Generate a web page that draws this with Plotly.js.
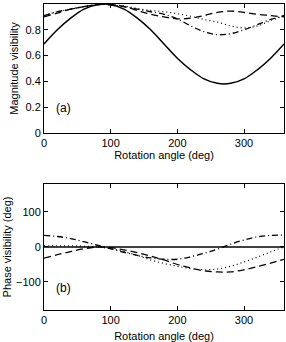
<!DOCTYPE html>
<html>
<head>
<meta charset="utf-8">
<script src="https://cdn.plot.ly/plotly-3.0.1.min.js"></script>
<style>html,body{margin:0;padding:0;background:#fff;}#plot{width:286px;height:342px;}</style>
</head>
<body>
<div id="plot"></div>
<script>
const angle = [0,20,40,60,80,100,120,140,160,180,200,220,240,260,280,300,320,340,360];

const magSolid   = [0.69,0.80,0.89,0.96,0.995,0.995,0.96,0.89,0.80,0.69,0.58,0.49,0.42,0.385,0.385,0.42,0.49,0.58,0.69];
const magDashed  = [0.90,0.93,0.96,0.98,0.995,0.995,0.98,0.95,0.92,0.90,0.885,0.89,0.91,0.935,0.945,0.935,0.92,0.91,0.90];
const magDashDot = [0.91,0.94,0.96,0.98,0.995,0.995,0.98,0.96,0.94,0.92,0.885,0.83,0.785,0.762,0.77,0.80,0.84,0.88,0.91];
const magDotted  = [0.91,0.94,0.96,0.98,0.995,0.995,0.985,0.965,0.95,0.94,0.925,0.905,0.88,0.86,0.83,0.815,0.83,0.87,0.91];

const phSolid   = [0,0,0,0,0,0,0,0,0,0,0,0,0,0,0,0,0,0,0];
const phDashed  = [-32,-22,-13,-5,0,-2,-8,-16,-26,-37,-50,-60,-68,-71,-71,-65,-56,-46,-35];
const phDashDot = [33,30,24,15,5,-5,-15,-24,-31,-35,-35,-28,-18,-6,8,20,29,33,34];
const phDotted  = [3,3,3,2,0,-5,-13,-24,-37,-47,-55,-62,-65,-63,-55,-43,-29,-14,0];

const xTicks = [0,100,200,300];
const magTicks = [0,0.2,0.4,0.6,0.8,1];
const phTicks = [-100,0,100];
const phTickText = ['\u2212100','0','100'];

function tr(y, xa, ya, dash, w){
  return {x: angle, y: y, xaxis: xa, yaxis: ya, type:'scatter', mode:'lines',
    line:{color:'#000', width:w, dash:dash, shape:'spline', smoothing:1}, hoverinfo:'skip'};
}

const data = [
  tr(magSolid,'x','y','solid',1.5),
  tr(magDashed,'x','y','7px,4px',1.3),
  tr(magDashDot,'x','y','6px,3px,1px,3px',1.3),
  tr(magDotted,'x','y','1px,3px',1.2),
  tr(phSolid,'x2','y2','solid',1.5),
  tr(phDashed,'x2','y2','7px,4px',1.3),
  tr(phDashDot,'x2','y2','6px,3px,1px,3px',1.3),
  tr(phDotted,'x2','y2','1px,3px',1.2)
];

const font = {family:'Liberation Sans, Arial, sans-serif', size:11, color:'#000'};
const axBase = {showline:true, linecolor:'#000', linewidth:1, mirror:'ticks', ticks:'inside',
  ticklen:4, tickcolor:'#000', tickwidth:1, showgrid:false, zeroline:false, tickfont:font, automargin:false};

const layout = {
  width:286, height:342,
  margin:{l:44, r:2, t:4, b:32},
  paper_bgcolor:'#fff', plot_bgcolor:'#fff',
  showlegend:false, font:font,
  xaxis: Object.assign({}, axBase, {domain:[0,1], anchor:'y', range:[0,360], tickvals:xTicks,
    title:{text:'Rotation angle (deg)', font:font, standoff:2}}),
  yaxis: Object.assign({}, axBase, {domain:[0.5784,1], anchor:'x', range:[0,1], tickvals:magTicks,
    ticktext:['0','0.2','0.4','0.6','0.8','1'],
    title:{text:'Magnitude visibility', font:font, standoff:4}}),
  xaxis2: Object.assign({}, axBase, {domain:[0,1], anchor:'y2', range:[0,360], tickvals:xTicks,
    title:{text:'Rotation angle (deg)', font:font, standoff:9}}),
  yaxis2: Object.assign({}, axBase, {domain:[0,0.4118], anchor:'x2', range:[-180,180], tickvals:phTicks,
    ticktext:phTickText, title:{text:'Phase visibility (deg)', font:font, standoff:2}}),
  annotations:[
    {text:'(a)', x:28.5, y:0.195, xref:'x', yref:'y', showarrow:false, font:{family:font.family, size:12, color:'#000'}},
    {text:'(b)', x:28.5, y:-118, xref:'x2', yref:'y2', showarrow:false, font:{family:font.family, size:12, color:'#000'}}
  ]
};

Plotly.newPlot('plot', data, layout, {displayModeBar:false, staticPlot:true});
</script>
</body>
</html>
